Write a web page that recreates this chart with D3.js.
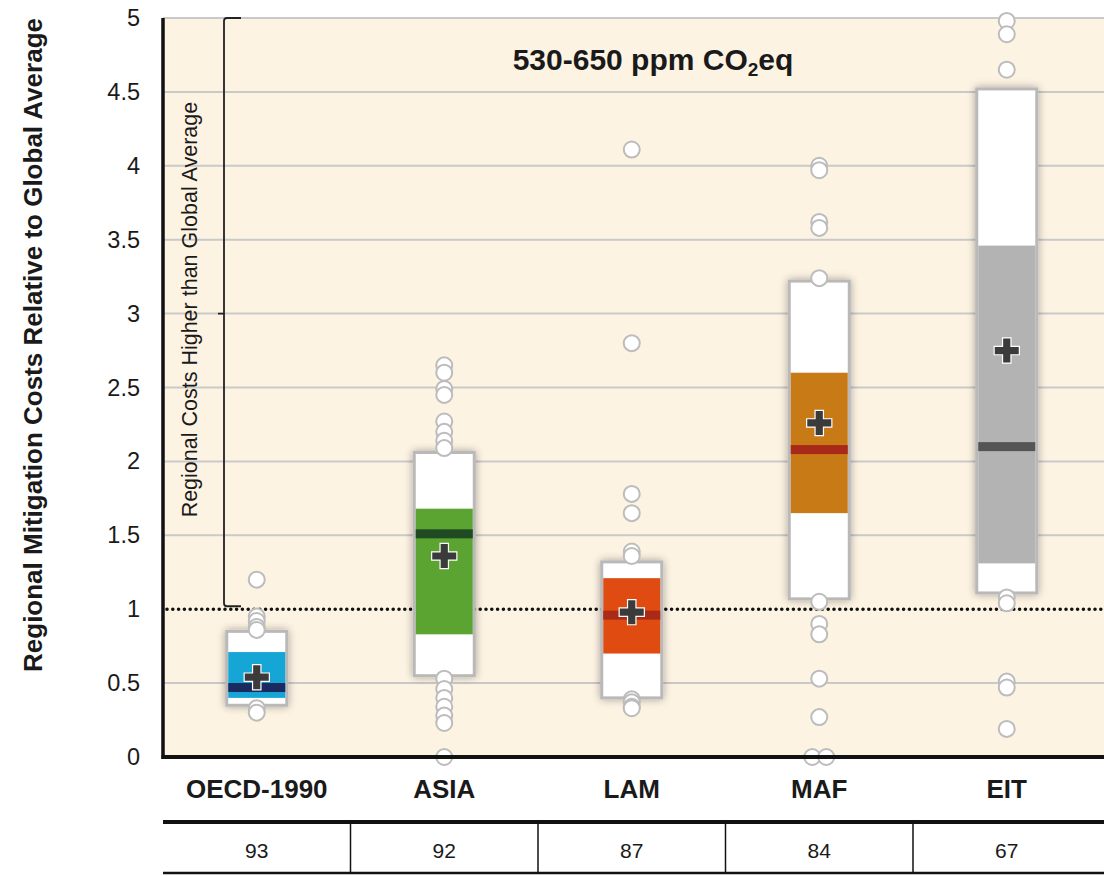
<!DOCTYPE html>
<html>
<head>
<meta charset="utf-8">
<script src="https://cdn.jsdelivr.net/npm/d3@7"></script>
<style>
  body { margin: 0; background: #fff; }
  svg text { font-family: "Liberation Sans", Arial, sans-serif; fill: #1a1a1a; }
  .narrow { font-family: "Liberation Sans Narrow", "Arial Narrow", sans-serif; }
</style>
</head>
<body>
<div id="chart"></div>
<script>
const categories = ['OECD-1990', 'ASIA', 'LAM', 'MAF', 'EIT']
const scenarioCounts = [93, 92, 87, 84, 67]
// outer white box (low / high), coloured box (q25 / q75), median, mean
const boxLow = [0.35, 0.55, 0.40, 1.07, 1.11]
const boxHigh = [0.85, 2.06, 1.32, 3.22, 4.52]
const q25 = [0.40, 0.83, 0.70, 1.65, 1.31]
const q75 = [0.71, 1.68, 1.21, 2.60, 3.46]
const medians = [0.47, 1.51, 0.96, 2.08, 2.10]
const means = [0.54, 1.36, 0.98, 2.26, 2.75]
const outliers = [
  [1.2, 0.95, 0.92, 0.88, 0.86, 0.33, 0.30],
  [2.65, 2.6, 2.49, 2.45, 2.27, 2.2, 2.14, 2.09, 0.53, 0.46, 0.4, 0.34, 0.28, 0.23, 0],
  [4.11, 2.8, 1.78, 1.65, 1.39, 1.36, 0.39, 0.37, 0.34, 0.33],
  [4.0, 3.97, 3.62, 3.58, 3.24, 1.05, 0.9, 0.83, 0.53, 0.27, 0, 0],
  [4.98, 4.89, 4.65, 1.08, 1.04, 0.51, 0.47, 0.19]
]
const fillColors = ['#15a6d6', '#5ba432', '#e04b12', '#c77a15', '#b3b3b3']
const medianColors = ['#1c2b5f', '#1f4a22', '#aa2a18', '#a8291a', '#555555']
const yTicks = [0, 0.5, 1, 1.5, 2, 2.5, 3, 3.5, 4, 4.5, 5]

const width = 1104
const height = 876
const plot = { left: 163, right: 1104, top: 18, bottom: 757 }

const svg = d3.select('#chart').append('svg')
  .attr('width', width)
  .attr('height', height)

const defs = svg.append('defs')
const shadow = defs.append('filter').attr('id', 'shadow')
  .attr('x', '-40%').attr('y', '-20%').attr('width', '180%').attr('height', '140%')
shadow.append('feGaussianBlur').attr('in', 'SourceAlpha').attr('stdDeviation', 4)
shadow.append('feComponentTransfer').append('feFuncA').attr('type', 'linear').attr('slope', 0.35)
const merge = shadow.append('feMerge')
merge.append('feMergeNode')
merge.append('feMergeNode').attr('in', 'SourceGraphic')

const x = d3.scaleBand().domain(categories).range([plot.left, 1100.5])
const y = d3.scaleLinear().domain([0, 5]).range([plot.bottom, plot.top])
const cx = c => x(c) + x.bandwidth() / 2

// background
svg.append('rect')
  .attr('x', plot.left).attr('y', plot.top)
  .attr('width', plot.right - plot.left).attr('height', plot.bottom - plot.top)
  .attr('fill', '#fdf3e3')

// grid
svg.append('g').selectAll('line')
  .data(yTicks.filter(d => d !== 0 && d !== 1))
  .join('line')
  .attr('x1', plot.left).attr('x2', plot.right)
  .attr('y1', d => y(d)).attr('y2', d => y(d))
  .attr('stroke', '#c9c9c9').attr('stroke-width', 2)

// reference line at 1
svg.append('line')
  .attr('x1', plot.left + 4).attr('x2', plot.right)
  .attr('y1', y(1)).attr('y2', y(1))
  .attr('stroke', '#111').attr('stroke-width', 3.6)
  .attr('stroke-linecap', 'round').attr('stroke-dasharray', '0 5.8')

// bracket
const bx = 224
svg.append('path')
  .attr('d', `M${bx + 17},${y(5)} L${bx + 3},${y(5)} Q${bx},${y(5)} ${bx},${y(5) + 3}
    L${bx},${y(1.02) - 3} Q${bx},${y(1.02)} ${bx + 3},${y(1.02)} L${bx + 17},${y(1.02)}
    M${bx},${y(3)} L${bx - 6},${y(3)}`)
  .attr('fill', 'none').attr('stroke', '#222').attr('stroke-width', 1.8)

svg.append('text')
  .attr('class', 'narrow')
  .attr('transform', `translate(197,${y(3) - 4}) rotate(-90)`)
  .attr('text-anchor', 'middle')
  .attr('font-size', 21.5)
  .attr('fill', '#222')
  .text('Regional Costs Higher than Global Average')

// title
const title = svg.append('text')
  .attr('x', 653).attr('y', 70)
  .attr('text-anchor', 'middle')
  .attr('font-size', 30).attr('font-weight', 'bold')
title.append('tspan').text('530-650 ppm CO')
title.append('tspan').attr('font-size', 19).attr('dy', 6).text('2')
title.append('tspan').attr('dy', -6).text('eq')

// boxes
const boxW = 60
const boxes = svg.append('g').selectAll('g')
  .data(categories)
  .join('g')

boxes.append('rect')
  .attr('x', d => cx(d) - boxW / 2)
  .attr('y', (d, i) => y(boxHigh[i]))
  .attr('width', boxW)
  .attr('height', (d, i) => y(boxLow[i]) - y(boxHigh[i]))
  .attr('fill', '#fff')
  .attr('stroke', '#b9b9b9').attr('stroke-width', 3)
  .attr('filter', 'url(#shadow)')

boxes.append('rect')
  .attr('x', d => cx(d) - boxW / 2 + 1.5)
  .attr('y', (d, i) => y(q75[i]))
  .attr('width', boxW - 3)
  .attr('height', (d, i) => y(q25[i]) - y(q75[i]))
  .attr('fill', (d, i) => fillColors[i])

boxes.append('rect')
  .attr('x', d => cx(d) - boxW / 2 + 1.5)
  .attr('y', (d, i) => y(medians[i]) - 4.5)
  .attr('width', boxW - 3)
  .attr('height', 9)
  .attr('fill', (d, i) => medianColors[i])

// outlier points, duplicates dodged sideways
const points = []
outliers.forEach((vals, i) => {
  const seen = {}
  vals.forEach(v => {
    const n = vals.filter(w => w === v).length
    const k = seen[v] = (seen[v] || 0) + 1
    points.push({ cat: categories[i], v, dx: n > 1 ? (k - (n + 1) / 2) * 14 : 0 })
  })
})
svg.append('g').selectAll('circle')
  .data(points)
  .join('circle')
  .attr('cx', d => cx(d.cat) + d.dx)
  .attr('cy', d => y(d.v))
  .attr('r', 8)
  .attr('fill', '#fff')
  .attr('stroke', '#bcbcbc').attr('stroke-width', 2)

// mean markers
const L = 12, t = 3.6
const plusPath = `M${-t},${-L}H${t}V${-t}H${L}V${t}H${t}V${L}H${-t}V${t}H${-L}V${-t}H${-t}Z`
svg.append('g').selectAll('path')
  .data(categories)
  .join('path')
  .attr('transform', (d, i) => `translate(${cx(d)},${y(means[i])})`)
  .attr('d', plusPath)
  .attr('fill', '#3b3b3b')
  .attr('stroke', '#fff').attr('stroke-width', 2.4)
  .attr('paint-order', 'stroke')
  .attr('stroke-linejoin', 'miter')

// axes lines
svg.append('line')
  .attr('x1', plot.left).attr('x2', plot.left)
  .attr('y1', plot.top).attr('y2', plot.bottom + 2)
  .attr('stroke', '#111').attr('stroke-width', 3.5)
svg.append('line')
  .attr('x1', plot.left - 1.5).attr('x2', plot.right)
  .attr('y1', plot.bottom).attr('y2', plot.bottom)
  .attr('stroke', '#111').attr('stroke-width', 4)

// y axis labels
const yAxis = svg.append('g')
  .attr('transform', `translate(${plot.left},0)`)
  .call(d3.axisLeft(y).tickValues(yTicks).tickFormat(d3.format('')).tickSize(0).tickPadding(23))
yAxis.select('.domain').remove()
yAxis.selectAll('text')
  .attr('font-size', 23.5)
  .attr('fill', '#1a1a1a')
  .style('font-family', '"Liberation Sans", Arial, sans-serif')

svg.append('text')
  .attr('class', 'narrow')
  .attr('transform', `translate(42,345) rotate(-90)`)
  .attr('text-anchor', 'middle')
  .attr('font-size', 26).attr('font-weight', 'bold')
  .text('Regional Mitigation Costs Relative to Global Average')

// category labels
svg.append('g').selectAll('text')
  .data(categories)
  .join('text')
  .attr('x', d => cx(d))
  .attr('y', 798)
  .attr('text-anchor', 'middle')
  .attr('font-size', 26).attr('font-weight', 'bold')
  .attr('class', 'narrow')
  .text(d => d)

// scenario count table
svg.append('line')
  .attr('x1', plot.left).attr('x2', plot.right)
  .attr('y1', 822).attr('y2', 822)
  .attr('stroke', '#111').attr('stroke-width', 4)
svg.append('line')
  .attr('x1', plot.left).attr('x2', plot.right)
  .attr('y1', 873).attr('y2', 873)
  .attr('stroke', '#111').attr('stroke-width', 2.5)
svg.append('g').selectAll('line')
  .data(categories.slice(1))
  .join('line')
  .attr('x1', d => x(d)).attr('x2', d => x(d))
  .attr('y1', 822).attr('y2', 873)
  .attr('stroke', '#111').attr('stroke-width', 1.5)
svg.append('g').selectAll('text')
  .data(categories)
  .join('text')
  .attr('x', d => cx(d))
  .attr('y', 858)
  .attr('text-anchor', 'middle')
  .attr('font-size', 21)
  .attr('class', 'narrow')
  .text((d, i) => scenarioCounts[i])
</script>
</body>
</html>
